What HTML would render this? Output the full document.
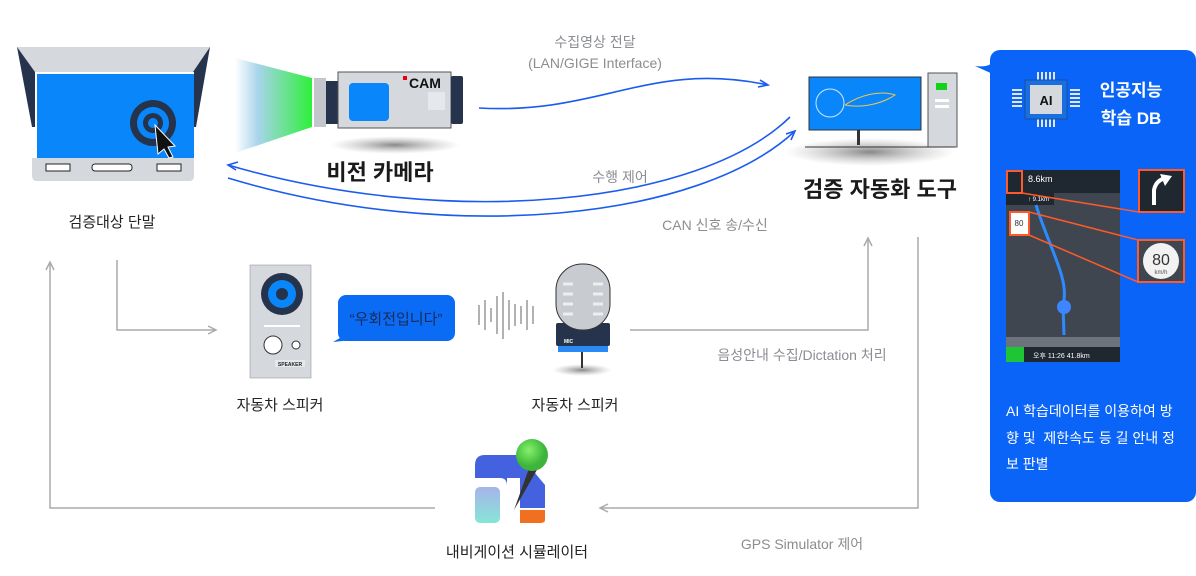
<!DOCTYPE html>
<html><head><meta charset="utf-8"><style>
body{margin:0;background:#fff;width:1196px;height:576px;overflow:hidden;position:relative;font-family:"Liberation Sans","Noto Sans CJK KR",sans-serif}
.t{position:absolute;white-space:nowrap;transform:translateX(-50%)}
.g{color:#8a8d92;font-size:14px}
.b{color:#222;font-size:15px}
.bb{color:#1a1a1a;font-size:22px;font-weight:bold}
</style></head><body>
<svg width="1196" height="576" style="position:absolute;left:0;top:0">
<defs>
<linearGradient id="beam" x1="0" x2="1"><stop offset="0" stop-color="#fff"/><stop offset="0.3" stop-color="#a8d4ec"/><stop offset="1" stop-color="#2ef03a"/></linearGradient>
<radialGradient id="sh"><stop offset="0" stop-color="#555" stop-opacity=".7"/><stop offset="1" stop-color="#999" stop-opacity="0"/></radialGradient>
<linearGradient id="nv" x1="0" y1="0" x2="0" y2="1"><stop offset="0" stop-color="#a7b3ea"/><stop offset="1" stop-color="#86e6d6"/></linearGradient>
<radialGradient id="pin" cx=".4" cy=".35"><stop offset="0" stop-color="#86f06a"/><stop offset="1" stop-color="#3cb53a"/></radialGradient>
</defs>
<!-- terminal -->
<polygon points="17,47 210,47 196,127 32,127" fill="#25344c"/>
<polygon points="17,47 210,47 193,72 35,72" fill="#d5d8dd"/>
<rect x="35" y="72" width="159" height="86" fill="#fff"/>
<rect x="37" y="74" width="157" height="84" fill="#0a86fb"/>
<path d="M32,158 H194 V176 Q194,181 189,181 H37 Q32,181 32,176Z" fill="#d5d8dd"/>
<rect x="46" y="164" width="24" height="7" fill="#fff" stroke="#222"/>
<rect x="92" y="164" width="40" height="7" rx="3" fill="#fff" stroke="#222"/>
<rect x="157" y="164" width="24" height="7" fill="#fff" stroke="#222"/>
<circle cx="153" cy="123" r="23" fill="#25344c"/><circle cx="153" cy="123" r="16" fill="#0a86fb"/><circle cx="153" cy="123" r="10" fill="#25344c"/><circle cx="153" cy="123" r="5" fill="#0a86fb"/>
<path d="M155,125 L175,146 L168,147 L173,157 L169,158 L164,149 L158,154Z" fill="#111" stroke="#fff" stroke-width="1"/>
<!-- beam & camera -->
<polygon points="235,58 312,78 312,127 235,153" fill="url(#beam)"/>
<rect x="314" y="78" width="12" height="49" fill="#c3c6ca"/>
<rect x="326" y="81" width="12" height="43" fill="#25344c"/>
<rect x="338" y="72" width="113" height="56" fill="#d5d8dd" stroke="#555" stroke-width="1"/>
<rect x="451" y="76" width="12" height="48" rx="2" fill="#25344c"/>
<rect x="349" y="83" width="40" height="38" rx="4" fill="#0a86fb"/>
<rect x="403" y="76" width="4" height="4" fill="#e00"/>
<text x="409" y="88" font-family="Liberation Sans" font-weight="bold" font-size="14" fill="#111">CAM</text>
<rect x="428" y="92" width="17" height="18" fill="#e6e8eb"/>
<ellipse cx="395" cy="145" rx="65" ry="9" fill="url(#sh)"/>
<!-- blue arrows -->
<g fill="none" stroke="#1b5cf0" stroke-width="1.6">
<path d="M479,108 C600,115 650,60 768,85"/>
<path d="M760,80 L768,85 L758,87"/>
<path d="M790,117 C700,205 450,230 228,165"/>
<path d="M238,162 L228,165 L236,170"/>
<path d="M228,178 C450,245 700,220 795,131"/>
<path d="M786,134 L795,131 L791,140"/>
</g>
<!-- computer -->
<ellipse cx="870" cy="152" rx="85" ry="14" fill="url(#sh)"/>
<rect x="809" y="77" width="112" height="53" fill="#0a86fb" stroke="#333"/>
<circle cx="830" cy="103" r="14" fill="none" stroke="#cfe6ff"/>
<path d="M845,105 C860,95 880,90 895,95 C880,105 860,108 845,105" fill="none" stroke="#f1c84a"/>
<rect x="857" y="130" width="3" height="15" fill="#333"/>
<rect x="928" y="73" width="29" height="74" fill="#d5d8dd" stroke="#555"/>
<rect x="936" y="83" width="11" height="7" fill="#12d31a"/>
<rect x="935" y="99" width="14" height="3" fill="#fff"/><rect x="935" y="105" width="14" height="3" fill="#fff"/>
<line x1="805" y1="147" x2="955" y2="147" stroke="#333"/>
<!-- AI panel -->
<rect x="990" y="50" width="206" height="452" rx="10" fill="#0a64f8"/>
<path d="M975,66 Q990,68 995,60 L995,75Z" fill="#0a64f8"/>
<g stroke="#dfe6f0" stroke-width="2">
<path d="M1038,72v8 M1042,72v8 M1046,72v8 M1050,72v8 M1054,72v8 M1038,119v8 M1042,119v8 M1046,119v8 M1050,119v8 M1054,119v8 M1012,90h10 M1012,94h10 M1012,98h10 M1012,102h10 M1012,106h10 M1070,90h10 M1070,94h10 M1070,98h10 M1070,102h10 M1070,106h10"/>
</g>
<rect x="1025" y="80" width="42" height="39" fill="#1a6fe0" stroke="#1850a0"/>
<rect x="1030" y="85" width="32" height="29" fill="#d5d8dd"/>
<text x="1046" y="105" text-anchor="middle" font-family="Liberation Sans" font-weight="bold" font-size="13" fill="#111">AI</text>
<!-- map -->
<rect x="1006" y="170" width="114" height="192" fill="#3f4650"/>
<rect x="1006" y="170" width="114" height="23" fill="#1f2731"/>
<rect x="1006" y="193" width="48" height="12" fill="#1f2731"/>
<path d="M1036,205 C1050,250 1070,280 1063,305 L1064,335" fill="none" stroke="#2b8cff" stroke-width="3"/>
<circle cx="1064" cy="307" r="7" fill="#3d86ff"/>
<rect x="1006" y="337" width="114" height="10" fill="#6c737c"/>
<rect x="1006" y="347" width="114" height="15" fill="#1f2731"/>
<rect x="1006" y="347" width="18" height="15" fill="#1ec535"/>
<text x="1028" y="182" font-family="Liberation Sans" font-size="9" fill="#fff">8.6km</text>
<text x="1028" y="201" font-family="Liberation Sans" font-size="6" fill="#fff">↑  9.1km</text>
<text x="1033" y="358" font-family="Liberation Sans" font-size="7" fill="#fff">오후 11:26  41.8km</text>
<rect x="1010" y="212" width="19" height="23" fill="#fff" stroke="#ff5a2a" stroke-width="2"/>
<text x="1019" y="226" text-anchor="middle" font-family="Liberation Sans" font-size="8" fill="#333">80</text>
<rect x="1007" y="171" width="15" height="22" fill="none" stroke="#ff5a2a" stroke-width="2"/>
<rect x="1139" y="170" width="45" height="42" fill="#1f2731" stroke="#ff5a2a" stroke-width="2"/>
<path d="M1154,205 V190 Q1156,180 1166,178" fill="none" stroke="#fff" stroke-width="4"/>
<path d="M1160,174 L1172,176 L1165,186Z" fill="#fff"/>
<rect x="1138" y="240" width="46" height="42" fill="#3f4650" stroke="#ff5a2a" stroke-width="2"/>
<circle cx="1161" cy="261" r="18" fill="#f2f2f2"/>
<text x="1161" y="265" text-anchor="middle" font-family="Liberation Sans" font-size="16" fill="#333">80</text>
<text x="1161" y="274" text-anchor="middle" font-family="Liberation Sans" font-size="6" fill="#555">km/h</text>
<g stroke="#ff5a2a" stroke-width="1.5" fill="none">
<path d="M1022,193 L1139,212 M1029,212 L1138,240 M1029,235 L1138,282"/>
</g>
<!-- gray connectors -->
<g fill="none" stroke="#aaa" stroke-width="1.5">
<path d="M117,260 V330 H215"/>
<path d="M208,326 L216,330 L208,334"/>
<path d="M435,508 H50 V262"/>
<path d="M46,270 L50,262 L54,270"/>
<path d="M630,330 H868 V238"/>
<path d="M864,246 L868,238 L872,246"/>
<path d="M918,237 V508 H600"/>
<path d="M608,504 L600,508 L608,512"/>
</g>
<!-- speaker -->
<rect x="250" y="265" width="61" height="113" fill="#d5d8dd" stroke="#888" stroke-width=".5"/>
<circle cx="282" cy="294" r="21" fill="#25344c"/><circle cx="282" cy="294" r="14" fill="#0a86fb"/><circle cx="282" cy="294" r="6" fill="#25344c"/>
<rect x="264" y="325" width="36" height="2" fill="#fff"/>
<circle cx="273" cy="345" r="9" fill="#fff" stroke="#333"/><circle cx="296" cy="345" r="4" fill="#fff" stroke="#333"/>
<rect x="275" y="360" width="30" height="7" fill="#e6e8eb"/>
<text x="290" y="366" text-anchor="middle" font-family="Liberation Sans" font-weight="bold" font-size="5" fill="#222">SPEAKER</text>
<!-- bubble -->
<rect x="338" y="295" width="117" height="46" rx="8" fill="#0a6cf5"/>
<path d="M345,335 L333,342 L352,340Z" fill="#0a6cf5"/>
<!-- waves -->
<g stroke="#999" stroke-width="1.5">
<path d="M479,305v20 M485,300v30 M491,308v14 M497,296v38 M503,292v47 M509,300v30 M515,304v22 M521,306v18 M527,300v30 M533,306v18"/>
</g>
<!-- mic -->
<ellipse cx="582" cy="370" rx="30" ry="6" fill="url(#sh)"/>
<line x1="582" y1="352" x2="582" y2="368" stroke="#333" stroke-width="2"/>
<rect x="558" y="343" width="50" height="9" fill="#2a8af5"/>
<rect x="556" y="323" width="54" height="23" rx="2" fill="#25344c"/>
<rect x="556" y="264" width="54" height="66" rx="26" fill="#c8cbcf" stroke="#333"/>
<g stroke="#eee" stroke-width="3"><path d="M563,284h10 M593,284h10 M563,294h10 M593,294h10 M563,304h10 M593,304h10 M563,314h10 M593,314h10"/></g>
<text x="564" y="343" font-family="Liberation Sans" font-weight="bold" font-size="5" fill="#fff">MIC</text>
<!-- nav -->
<path d="M475,465 Q475,455 485,455 H520 L545,485 V508 H475Z" fill="#4462e0"/>
<path d="M475,478 H500 Q507,478 507,486 V528 H475Z" fill="#fff"/>
<rect x="475" y="487" width="25" height="36" rx="5" fill="url(#nv)"/>
<rect x="507" y="478" width="13" height="50" fill="#fff"/>
<path d="M520,510 H545 V520 Q545,523 540,523 H520Z" fill="#f07020"/>
<path d="M532,460 L538,468 L514,510Z" fill="#333"/>
<circle cx="532" cy="455" r="16" fill="url(#pin)"/>
</svg>
<div class="t g" style="left:595px;top:32px">수집영상 전달</div>
<div class="t g" style="left:595px;top:55px">(LAN/GIGE Interface)</div>
<div class="t g" style="left:620px;top:167px">수행 제어</div>
<div class="t g" style="left:715px;top:215px">CAN 신호 송/수신</div>
<div class="t g" style="left:802px;top:345px">음성안내 수집/Dictation 처리</div>
<div class="t g" style="left:802px;top:534px">GPS Simulator 제어</div>
<div class="t b" style="left:112px;top:211px">검증대상 단말</div>
<div class="t bb" style="left:380px;top:155px">비전 카메라</div>
<div class="t bb" style="left:880px;top:172px">검증 자동화 도구</div>
<div class="t b" style="left:280px;top:394px">자동차 스피커</div>
<div class="t b" style="left:575px;top:394px">자동차 스피커</div>
<div class="t b" style="left:517px;top:541px">내비게이션 시뮬레이터</div>
<div class="t" style="left:396px;top:308px;color:#1a2a55;font-size:15px">“우회전입니다”</div>
<div class="t" style="left:1131px;top:76px;color:#fff;font-size:17px;font-weight:bold">인공지능</div>
<div class="t" style="left:1131px;top:104px;color:#fff;font-size:17px;font-weight:bold">학습 DB</div>
<div style="position:absolute;left:1006px;top:398px;white-space:nowrap;color:#fff;font-size:14px;line-height:26.5px">AI 학습데이터를 이용하여 방<br>향 및&nbsp; 제한속도 등 길 안내 정<br>보 판별</div>
</body></html>
